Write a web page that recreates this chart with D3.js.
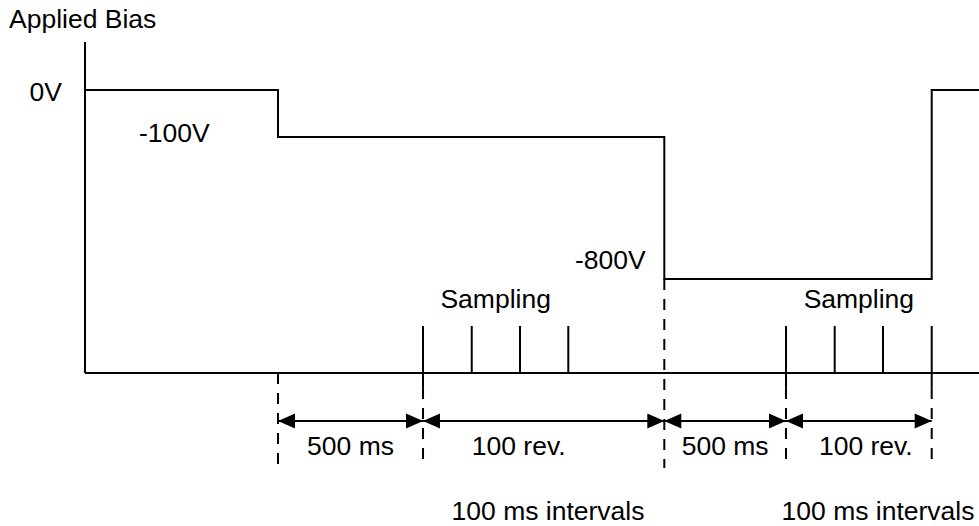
<!DOCTYPE html>
<html><head><meta charset="utf-8">
<script src="https://cdn.jsdelivr.net/npm/d3@7"></script>
<style>
body{margin:0;background:#fff}
text{font-family:"Liberation Sans",Arial,Helvetica,sans-serif;font-size:25px;fill:#000}
</style>
</head><body>
<svg id="c" width="979" height="526"></svg>
<script>
// ---- data (schematic units) ----
const stepTimes = [0, 21.59, 64.80, 94.71, 100];
const biasLabels = ["0V", "-100V", "-800V", "0V"];
const biasLevels = [8.55, 7.13, 2.84, 8.55];
const intervalBounds = [21.59, 37.81, 64.80, 78.41, 94.71];
const intervalLabels = ["500 ms", "100 rev.", "500 ms", "100 rev."];
const sampleTimes1 = [37.81, 43.26, 48.66, 54.06];
const sampleTimes2 = [78.41, 83.86, 89.26, 94.71];
const sampleTickHeight = 1.42;
const sampleLabel = "Sampling";
const noteLabel = "100 ms intervals";
const axisTitle = "Applied Bias";

// ---- scales ----
const svg = d3.select("#c");
const x = d3.scaleLinear().domain([0, 100]).range([85, 979]);
const y = d3.scaleLinear().domain([0, 10]).range([373, 42]);
const SX = 1.06;
const SW = 2;

function txt(s, px, py, anchor) {
  svg.append("text")
    .attr("transform", `translate(${px},${py}) scale(${SX},1)`)
    .attr("text-anchor", anchor || "start")
    .text(s);
}
function seg(x1, y1, x2, y2, dash) {
  const l = svg.append("line").attr("x1", x1).attr("y1", y1).attr("x2", x2).attr("y2", y2)
    .attr("stroke", "#000").attr("stroke-width", SW);
  if (dash) l.attr("stroke-dasharray", dash);
  return l;
}
const isBound = t => intervalBounds.some(b => Math.abs(b - t) < 0.01);

// axes
seg(x(0), y(0), x(0), y(10));
seg(x(0), y(0), x(100), y(0));

// bias waveform
const pts = stepTimes.map((t, i) => [t, biasLevels[Math.min(i, biasLevels.length - 1)]]);
svg.append("path")
  .attr("d", d3.line().x(d => x(d[0])).y(d => y(d[1])).curve(d3.curveStepAfter)(pts))
  .attr("fill", "none").attr("stroke", "#000").attr("stroke-width", SW);

// sampling ticks
const ext = -0.45;
[sampleTimes1, sampleTimes2].forEach(arr => {
  arr.forEach(t => {
    seg(x(t), y(sampleTickHeight), x(t), isBound(t) ? y(ext) : y(0));
  });
  const mid = (x(arr[0]) + x(arr[arr.length - 1])) / 2;
  txt(sampleLabel, mid, 308, "middle");
});

// dashed guide lines
const dashBottom = y(-2.87);
intervalBounds.forEach((t, i) => {
  let top;
  if (i === 0) top = y(0);
  else if (Math.abs(t - stepTimes[2]) < 0.01) top = y(biasLevels[2]);
  else top = y(ext);
  seg(x(t), top, x(t), dashBottom, "11,9");
});

// dimension arrows
const ay = y(-1.45);
const AL = 17, AH = 7.5;
for (let i = 0; i < intervalLabels.length; i++) {
  const a = x(intervalBounds[i]), b = x(intervalBounds[i + 1]);
  seg(a, ay, b, ay);
  svg.append("path").attr("d", `M${a},${ay}L${a + AL},${ay - AH}L${a + AL},${ay + AH}Z`).attr("fill", "#000");
  svg.append("path").attr("d", `M${b},${ay}L${b - AL},${ay - AH}L${b - AL},${ay + AH}Z`).attr("fill", "#000");
}
const labelShift = [0, -25, 0, 7];
intervalLabels.forEach((s, i) => {
  const mid = (x(intervalBounds[i]) + x(intervalBounds[i + 1])) / 2 + labelShift[i];
  txt(s, mid, 455, "middle");
});

// notes
txt(noteLabel, 548, 520, "middle");
txt(noteLabel, 878, 520, "middle");

// bias labels
txt(axisTitle, 9, 28, "start");
txt(biasLabels[0], 62, 101, "end");
txt(biasLabels[1], 139, 142, "start");
txt(biasLabels[2], 575, 269, "start");
</script>
</body></html>
